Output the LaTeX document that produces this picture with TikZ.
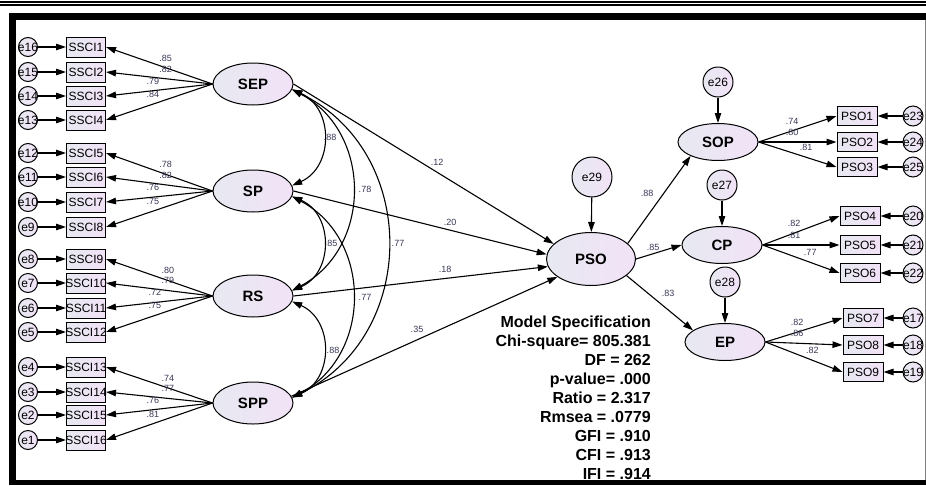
\documentclass[tikz,border=0pt]{standalone}
\usepackage{fontspec}
\setmainfont{Liberation Sans}
\usetikzlibrary{arrows.meta,shapes.geometric}

\definecolor{semleft}{RGB}{231,233,241}
\definecolor{semright}{RGB}{242,226,247}
\definecolor{semtxt}{RGB}{55,55,85}

\tikzset{
  latent/.style={ellipse,draw,line width=1pt,left color=semleft,right color=semright,
    minimum width=80pt,minimum height=42pt,inner sep=0pt,
    font=\fontsize{15}{15}\selectfont\bfseries},
  indic/.style={rectangle,draw,line width=1pt,left color=semleft,right color=semright,
    minimum width=39pt,minimum height=20pt,inner sep=0pt,
    font=\fontsize{12}{12}\selectfont},
  err/.style={circle,draw,line width=1pt,left color=semleft,right color=semright,
    minimum size=19pt,inner sep=0pt,font=\fontsize{12}{12}\selectfont},
  arr/.style={->,line width=1.1pt},
  cov/.style={<->,line width=1.1pt},
  lbl/.style={font=\fontsize{9}{9}\selectfont,text=semtxt,inner sep=0pt},
  stat/.style={anchor=base east,inner sep=0pt,font=\fontsize{16}{16}\selectfont\bfseries}
}

\begin{document}
\begin{tikzpicture}[x=1pt,y=1pt,>={Triangle[length=10pt,width=6.5pt]}]
	\useasboundingbox (0,0) rectangle (926,-485);
	% Rahmen
	\fill (0,-0.8) rectangle (926,-2.7);
	\fill (0,-4.2) rectangle (926,-5.8);
	\fill (9,-12.7) rectangle (926,-20);
	\fill (9,-12.7) rectangle (16,-485);
	\fill (9,-480) rectangle (926,-485);
	\draw[gray,line width=0.8pt] (925,-20) -- (925,-480);
	% latente Variablen links
	\foreach \lat/\y in {SEP/84,SP/191,RS/296,SPP/403}
		\node[latent] (\lat) at (253,-\y) {\lat};
	% Indikatoren links
	\foreach \i/\y/\lat/\w/\p in {1/47/SEP/.85/0.44, 2/72/SEP/.82/0.44, 3/96/SEP/.79/0.56, 4/120/SEP/.84/0.56,
			5/153/SP/.78/0.44, 6/177/SP/.82/0.44, 7/202/SP/.76/0.56, 8/227/SP/.75/0.56,
			9/259/RS/.80/0.42, 10/283/RS/.79/0.42, 11/308/RS/.72/0.54, 12/332/RS/.75/0.54,
			13/367/SPP/.74/0.42, 14/392/SPP/.77/0.42, 15/415/SPP/.76/0.56, 16/440/SPP/.81/0.56}
	{
		\pgfmathtruncatemacro{\en}{17-\i}
		\node[indic] (SSCI\i) at (86,-\y) {\makebox[0pt]{SSCI\i}};
		\node[err] (e\en) at (28,-\y) {\makebox[0pt]{e\en}};
		\draw[arr] (e\en) -- (SSCI\i);
		\draw[arr] (\lat.west) -- node[lbl,pos=\p,above=6pt] (w\i) {\w} (SSCI\i.east);
	}
	% Kovarianzen
	\draw[cov] (SEP.-8) to[out=-24,in=24,looseness=1.22] (SP.8);
	\draw[cov] (SEP.-8) to[out=-28,in=28,looseness=1.16] (RS.8);
	\draw[cov] (SEP.-8) to[out=-26,in=26,looseness=1.18] (SPP.8);
	\draw[cov] (SP.-8) to[out=-23,in=23,looseness=1.23] (RS.8);
	\draw[cov] (SP.-8) to[out=-28,in=28,looseness=1.16] (SPP.8);
	\draw[cov] (RS.-8) to[out=-24,in=24,looseness=1.22] (SPP.8);
	\node[lbl] (c1) at (330,-137) {.88};
	\node[lbl] (c2) at (365,-189) {.78};
	\node[lbl] (c3) at (398,-243) {.77};
	\node[lbl] (c4) at (331,-243) {.85};
	\node[lbl] (c5) at (365,-297) {.77};
	\node[lbl] (c6) at (333,-350) {.88};
	% zentrale Variable
	\node[latent,minimum width=89pt,minimum height=53pt] (PSO) at (591,-259) {PSO};
	\node[err,minimum size=40pt] (e29) at (592,-177) {e29};
	\draw[arr] (e29) -- (PSO);
	\draw[arr] (SEP.east) -- (PSO.158);
	\draw[arr] (SP.east) -- (PSO.174);
	\draw[arr] (RS.east) -- (PSO.190);
	\draw[arr] (SPP.10) -- (PSO.208);
	\node[lbl] (g1) at (437,-162) {.12};
	\node[lbl] (g2) at (450,-222) {.20};
	\node[lbl] (g3) at (445,-269) {.18};
	\node[lbl] (g4) at (417,-329) {.35};
	% latente Variablen rechts
	\foreach \lat/\x/\y/\en in {SOP/718/142/26, CP/722/245/27, EP/725/342/28}
	{
		\node[latent,minimum height=37pt] (\lat) at (\x,-\y) {\lat};
		\node[err,minimum size=30pt] (e\en) at (\x,-\y+60) {e\en};
		\draw[arr] (e\en) -- (\lat);
	}
	\draw[arr] (PSO.23) -- (SOP.207);
	\draw[arr] (PSO.east) -- (CP.west);
	\draw[arr] (PSO.-25) -- (EP.160);
	\node[lbl] (h1) at (647,-193) {.88};
	\node[lbl] (h2) at (653,-247) {.85};
	\node[lbl] (h3) at (668,-293) {.83};
	% Indikatoren rechts
	\foreach \i/\lat/\x/\y/\en/\w/\p in {1/SOP/857/116/23/.74/0.43, 2/SOP/857/142/24/.80/0.43, 3/SOP/857/167/25/.81/0.61,
			4/CP/860/216/20/.82/0.41, 5/CP/860/245/21/.81/0.41, 6/CP/860/273/22/.77/0.62,
			7/EP/863/318/17/.82/0.41, 8/EP/863/345/18/.86/0.41, 9/EP/863/372/19/.82/0.61}
	{
		\node[indic,minimum width=40pt,minimum height=19pt] (PSO\i) at (\x,-\y) {PSO\i};
		\node[err,minimum size=20pt] (e\en) at (913,-\y) {\makebox[0pt]{e\en}};
		\draw[arr] (e\en) -- (PSO\i);
		\draw[arr] (\lat.east) -- node[lbl,pos=\p,above=6pt] (v\i) {\w} (PSO\i.west);
	}
	% Modellguete
	\foreach \txt [count=\k from 0] in {Model Specification, Chi-square= 805.381, DF = 262, p-value= .000,
			Ratio = 2.317, Rmsea = .0779, GFI = .910, CFI = .913, IFI = .914}
		\node[stat] (stat\k) at (651,-327-19*\k) {\txt};
\end{tikzpicture}
\end{document}
